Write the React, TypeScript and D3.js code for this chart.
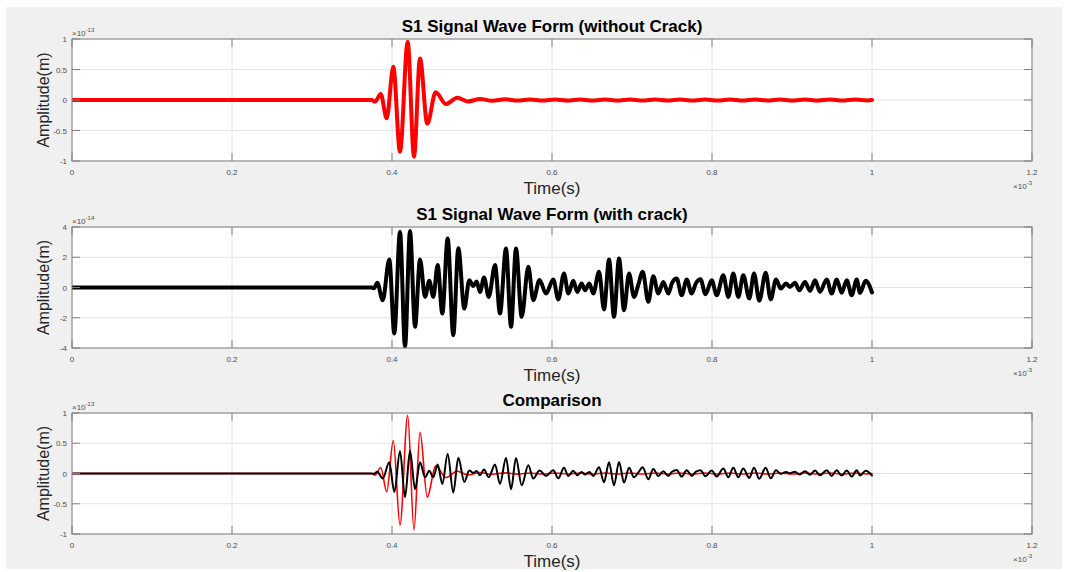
import React from 'react';
import * as d3 from 'd3';

// time in ms (x10^-3 s)
const redTime = [
  0, 0.3746, 0.3788, 0.3859, 0.3934, 0.4016, 0.41, 0.4196, 0.4275, 0.435, 0.4441,
  0.4546, 0.4675, 0.4816, 0.4946, 0.51, 0.5256, 0.5413, 0.5569, 0.5725, 0.5881,
  0.6038, 0.6194, 0.635, 0.6506, 0.6663, 0.6819, 0.6975, 0.7131, 0.7288, 0.7444,
  0.76, 0.7756, 0.7913, 0.8069, 0.8225, 0.8381, 0.8538, 0.8694, 0.885, 0.9006,
  0.9163, 0.9319, 0.9475, 0.9631, 0.9788, 0.9944, 1.0,
];
// amplitude x10^-13 m
const redAmp = [
  0, 0, -0.027, 0.098, -0.3, 0.546, -0.85, 0.956, -0.93, 0.68, -0.39,
  0.126, -0.066, 0.038, -0.024, 0.016, -0.013, 0.011, -0.01, 0.009, -0.009,
  0.008, -0.008, 0.009, -0.008, 0.009, -0.008, 0.009, -0.009, 0.008, -0.008,
  0.009, -0.008, 0.009, -0.008, 0.009, -0.009, 0.008, -0.008, 0.009, -0.008,
  0.009, -0.008, 0.008, -0.009, 0.008, -0.007, 0.0,
];

const blackTime = [
  0, 0.3746, 0.3775, 0.3816, 0.3884, 0.3966, 0.4029, 0.41, 0.4163, 0.4225, 0.4288,
  0.435, 0.4413, 0.4466, 0.4516, 0.4571, 0.4629, 0.4696, 0.4766, 0.4829, 0.4904,
  0.4966, 0.5016, 0.5059, 0.51, 0.515, 0.5209, 0.5288, 0.535, 0.5425, 0.5488,
  0.555, 0.5621, 0.5704, 0.5766, 0.5844, 0.5925, 0.6016, 0.6079, 0.615, 0.6204,
  0.6266, 0.6316, 0.6371, 0.6413, 0.6466, 0.6516, 0.6588, 0.665, 0.6713, 0.6775,
  0.6838, 0.69, 0.6963, 0.7025, 0.708, 0.7134, 0.7204, 0.7266, 0.7329, 0.7391, 0.7454,
  0.75, 0.7559, 0.7621, 0.7684, 0.7746, 0.78, 0.7856, 0.7919, 0.7996, 0.8059, 0.8141,
  0.8204, 0.8266, 0.8329, 0.8391, 0.8466, 0.8525, 0.8591, 0.8671, 0.8734, 0.88,
  0.8859, 0.8925, 0.8975, 0.9038, 0.9091, 0.9163, 0.9225, 0.9288, 0.935, 0.9434,
  0.9496, 0.9559, 0.9621, 0.9684, 0.9746, 0.9809, 0.985, 0.9921, 1.0,
];
// amplitude x10^-14 m
const blackAmp = [
  0, 0, -0.05, 0.31, -0.84, 1.85, -3.04, 3.68, -3.92, 3.74, -2.6,
  1.85, -0.62, 0.44, -0.62, 1.48, -1.72, 3.24, -3.15, 2.6, -1.39,
  0.48, 0.1, 0.4, -0.3, 0.66, -0.62, 1.48, -1.72, 2.58, -2.6,
  2.58, -1.94, 1.37, -0.84, 0.5, -0.4, 0.53, -0.79, 0.93, -0.4,
  0.44, -0.29, 0.26, -0.18, 0.26, -0.4, 1.04, -1.45, 1.85, -1.94,
  1.92, -1.5, 0.93, -0.62, 0.2, 1.04, -0.95, 0.75, -0.4, 0.37, -0.4,
  0.3, 0.59, -0.51, 0.53, -0.4, 0.3, 0.55, -0.45, 0.48, -0.51, 0.81,
  -0.62, 0.93, -0.62, 0.81, -0.73, 0.93, -0.88, 0.97, -0.79, 0.53,
  -0.07, 0.26, 0.04, 0.31, -0.18, 0.37, -0.22, 0.48, -0.29, 0.53,
  -0.4, 0.53, -0.35, 0.48, -0.51, 0.53, -0.35, 0.44, -0.33,
];

const xTicks = [0, 0.2, 0.4, 0.6, 0.8, 1, 1.2];
const xTickLabels = ['0', '0.2', '0.4', '0.6', '0.8', '1', '1.2'];
const yTicks13 = [-1, -0.5, 0, 0.5, 1];
const yTicks14 = [-4, -2, 0, 2, 4];

const FONT = '"Liberation Sans", Arial, Helvetica, sans-serif';
const LEFT = 72;
const RIGHT = 1032;

function Exp({ x, y, exp, anchor }) {
  return (
    <text x={x} y={y} fontSize={8} fill="#4d4d4d" textAnchor={anchor} fontFamily={FONT}>
      ×10<tspan fontSize={6} dy={-4}>{exp}</tspan>
    </text>
  );
}

function Panel({ top, bottom, title, yTicks, yExp, lines }) {
  const x = d3.scaleLinear([0, 1.2], [LEFT, RIGHT]);
  const y = d3.scaleLinear([yTicks[0], yTicks[yTicks.length - 1]], [bottom, top]);
  const id = 'clip' + top;

  return (
    <g>
      <rect x={LEFT} y={top} width={RIGHT - LEFT} height={bottom - top} fill="#fff" />
      <g stroke="#e4e4e4" strokeWidth={1}>
        {xTicks.map((t) => (
          <line key={'gx' + t} x1={x(t)} x2={x(t)} y1={top} y2={bottom} />
        ))}
        {yTicks.map((t) => (
          <line key={'gy' + t} x1={LEFT} x2={RIGHT} y1={y(t)} y2={y(t)} />
        ))}
      </g>
      <clipPath id={id}>
        <rect x={LEFT} y={top} width={RIGHT - LEFT} height={bottom - top} />
      </clipPath>
      <g clipPath={`url(#${id})`}>
        {lines.map((l, i) => {
          const line = d3
            .line()
            .x((d, j) => x(l.t[j]))
            .y((d) => y(d))
            .curve(d3.curveMonotoneX);
          return (
            <path
              key={i}
              d={line(l.v)}
              fill="none"
              stroke={l.color}
              strokeWidth={l.width}
              strokeLinejoin="round"
              strokeLinecap="round"
            />
          );
        })}
      </g>
      <g stroke="#808080" strokeWidth={1}>
        {xTicks.map((t) => (
          <g key={'tx' + t}>
            <line x1={x(t)} x2={x(t)} y1={bottom} y2={bottom - 8} />
            <line x1={x(t)} x2={x(t)} y1={top} y2={top + 8} />
          </g>
        ))}
        {yTicks.map((t) => (
          <g key={'ty' + t}>
            <line x1={LEFT} x2={LEFT + 8} y1={y(t)} y2={y(t)} />
            <line x1={RIGHT} x2={RIGHT - 8} y1={y(t)} y2={y(t)} />
          </g>
        ))}
        <rect x={LEFT} y={top} width={RIGHT - LEFT} height={bottom - top} fill="none" />
      </g>
      <g fontFamily={FONT} fontSize={8} fill="#4d4d4d">
        {xTicks.map((t, i) => (
          <text key={'lx' + t} x={x(t)} y={bottom + 14} textAnchor="middle">
            {xTickLabels[i]}
          </text>
        ))}
        {yTicks.map((t) => (
          <text key={'ly' + t} x={LEFT - 5} y={y(t) + 3} textAnchor="end">
            {String(t)}
          </text>
        ))}
      </g>
      <Exp x={LEFT} y={top - 3} exp={yExp} anchor="start" />
      <Exp x={RIGHT} y={bottom + 28} exp="-3" anchor="end" />
      <text
        x={(LEFT + RIGHT) / 2}
        y={top - 7}
        textAnchor="middle"
        fontFamily={FONT}
        fontWeight="bold"
        fontSize={17}
        fill="#000"
      >
        {title}
      </text>
      <text
        x={(LEFT + RIGHT) / 2}
        y={bottom + 33}
        textAnchor="middle"
        fontFamily={FONT}
        fontSize={17}
        fill="#262626"
      >
        Time(s)
      </text>
      <text
        transform={`translate(49,${(top + bottom) / 2}) rotate(-90)`}
        textAnchor="middle"
        fontFamily={FONT}
        fontSize={16}
        fill="#262626"
      >
        Amplitude(m)
      </text>
    </g>
  );
}

export default function App() {
  const blackScaled = blackAmp.map((v) => v / 10);
  return (
    <div style={{ position: 'absolute', left: 0, top: 0 }}>
      <svg width={1068} height={572} style={{ display: 'block' }}>
        <rect x={0} y={0} width={1068} height={572} fill="#fff" />
        <rect x={6} y={7} width={1056} height={562} fill="#f0f0f0" />
        <Panel
          top={39}
          bottom={161}
          title="S1 Signal Wave Form (without Crack)"
          yTicks={yTicks13}
          yExp="-13"
          lines={[{ t: redTime, v: redAmp, color: '#ff0000', width: 4 }]}
        />
        <Panel
          top={227}
          bottom={348}
          title="S1 Signal Wave Form (with crack)"
          yTicks={yTicks14}
          yExp="-14"
          lines={[{ t: blackTime, v: blackAmp, color: '#000000', width: 4 }]}
        />
        <Panel
          top={413}
          bottom={534}
          title="Comparison"
          yTicks={yTicks13}
          yExp="-13"
          lines={[
            { t: redTime, v: redAmp, color: '#ff0000', width: 1.6 },
            { t: blackTime, v: blackScaled, color: '#000000', width: 2 },
          ]}
        />
      </svg>
    </div>
  );
}
